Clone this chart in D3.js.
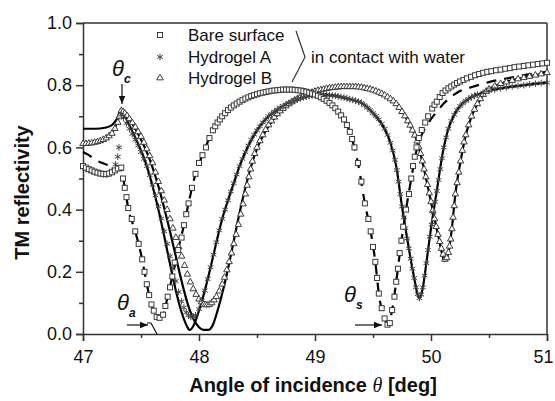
<!DOCTYPE html>
<html>
<head>
<meta charset="utf-8">
<script src="https://cdn.jsdelivr.net/npm/d3@7"></script>
<style>
body { margin: 0; background: #fff; }
svg text { font-family: "Liberation Sans", Arial, sans-serif; fill: #111; }
</style>
</head>
<body>
<div id="chart"></div>
<script>
// measured points [angle in deg, TM reflectivity]
const bareData = [
  [47.00,0.540],[47.025,0.535],[47.05,0.530],[47.075,0.526],[47.10,0.522],[47.125,0.519],[47.15,0.516],[47.175,0.515],
  [47.20,0.514],[47.225,0.516],[47.25,0.520],[47.275,0.526],[47.30,0.532],[47.33,0.535],
  [47.345,0.500],[47.36,0.470],[47.375,0.440],[47.39,0.405],[47.42,0.370],[47.45,0.330],[47.48,0.290],[47.51,0.240],
  [47.53,0.200],[47.55,0.160],[47.57,0.125],[47.59,0.095],[47.61,0.075],[47.635,0.055],[47.66,0.052],[47.69,0.062],
  [47.71,0.090],[47.73,0.120],[47.75,0.150],[47.77,0.185],[47.79,0.230],[47.82,0.270],[47.85,0.310],[47.87,0.350],
  [47.89,0.385],[47.91,0.420],[47.94,0.470],[47.97,0.515],[48.00,0.550],[48.03,0.575],[48.06,0.600],[48.09,0.630],
  [48.12,0.655],[48.14,0.668],[48.16,0.680],[48.18,0.690],[48.20,0.700],[48.225,0.710],[48.25,0.720],[48.275,0.728],
  [48.30,0.735],[48.325,0.741],[48.35,0.747],[48.375,0.752],[48.40,0.757],[48.425,0.761],[48.45,0.765],[48.475,0.768],
  [48.50,0.771],[48.525,0.774],[48.55,0.776],[48.575,0.778],[48.60,0.780],[48.625,0.782],[48.65,0.783],[48.675,0.784],
  [48.70,0.785],[48.725,0.786],[48.75,0.786],[48.775,0.786],[48.80,0.786],[48.825,0.785],[48.85,0.784],[48.875,0.783],
  [48.90,0.781],[48.925,0.779],[48.95,0.776],[48.975,0.773],[49.00,0.770],[49.025,0.766],[49.05,0.761],[49.075,0.756],
  [49.10,0.750],[49.125,0.743],[49.15,0.735],[49.175,0.726],[49.20,0.715],[49.225,0.703],[49.25,0.690],[49.275,0.672],
  [49.30,0.650],[49.32,0.627],[49.34,0.600],[49.37,0.550],[49.40,0.490],[49.43,0.420],[49.46,0.370],[49.48,0.330],
  [49.50,0.280],[49.52,0.232],[49.535,0.180],[49.55,0.130],[49.575,0.083],[49.60,0.050],[49.625,0.030],[49.645,0.035],
  [49.665,0.077],[49.685,0.120],[49.70,0.168],[49.715,0.210],[49.73,0.260],[49.745,0.300],[49.76,0.345],[49.785,0.400],
  [49.81,0.450],[49.83,0.500],[49.845,0.540],[49.86,0.570],[49.875,0.600],[49.895,0.630],[49.92,0.656],[49.95,0.680],
  [49.975,0.700],[50.01,0.725],[50.03,0.737],[50.05,0.747],[50.075,0.762],[50.10,0.775],[50.125,0.783],[50.15,0.790],
  [50.175,0.796],[50.20,0.802],[50.225,0.807],[50.25,0.812],[50.28,0.817],[50.31,0.822],[50.345,0.827],[50.38,0.832],
  [50.415,0.836],[50.45,0.840],[50.485,0.843],[50.52,0.845],[50.56,0.848],[50.60,0.850],[50.64,0.853],[50.68,0.855],
  [50.72,0.858],[50.76,0.860],[50.80,0.862],[50.84,0.864],[50.88,0.866],[50.92,0.868],[50.96,0.870],[51.00,0.872]
];
const gelAData = [
  [47.00,0.535],[47.025,0.531],[47.05,0.528],[47.075,0.524],[47.10,0.520],[47.125,0.517],[47.15,0.515],[47.175,0.513],
  [47.20,0.512],[47.225,0.516],[47.25,0.525],[47.28,0.545],[47.30,0.570],[47.31,0.600],[47.33,0.705],[47.35,0.695],
  [47.375,0.678],[47.40,0.660],[47.425,0.643],[47.45,0.625],[47.475,0.606],[47.50,0.585],[47.525,0.563],[47.55,0.540],
  [47.575,0.511],[47.60,0.480],[47.625,0.446],[47.65,0.410],[47.675,0.371],[47.70,0.330],[47.725,0.290],[47.75,0.250],
  [47.775,0.210],[47.80,0.170],[47.825,0.135],[47.85,0.105],[47.87,0.085],[47.89,0.070],[47.91,0.060],[47.93,0.055],
  [47.95,0.056],[47.97,0.060],[48.00,0.080],[48.025,0.108],[48.05,0.140],[48.075,0.177],[48.10,0.215],[48.125,0.255],
  [48.15,0.295],[48.175,0.333],[48.20,0.370],[48.225,0.400],[48.25,0.430],[48.275,0.458],[48.30,0.485],[48.325,0.513],
  [48.35,0.540],[48.375,0.563],[48.40,0.585],[48.425,0.606],[48.45,0.625],[48.475,0.641],[48.50,0.655],[48.525,0.668],
  [48.55,0.680],[48.575,0.690],[48.60,0.700],[48.625,0.708],[48.65,0.715],[48.675,0.722],[48.70,0.728],[48.725,0.733],
  [48.75,0.738],[48.775,0.743],[48.80,0.747],[48.825,0.751],[48.85,0.755],[48.875,0.758],[48.90,0.761],[48.925,0.763],
  [48.95,0.765],[48.975,0.767],[49.00,0.768],[49.025,0.769],[49.05,0.770],[49.075,0.770],[49.10,0.769],[49.125,0.768],
  [49.15,0.767],[49.175,0.766],[49.20,0.764],[49.225,0.762],[49.25,0.760],[49.275,0.758],[49.30,0.755],[49.325,0.753],
  [49.35,0.750],[49.375,0.747],[49.40,0.743],[49.425,0.736],[49.45,0.728],[49.475,0.720],[49.50,0.710],[49.525,0.701],
  [49.55,0.690],[49.575,0.676],[49.60,0.660],[49.625,0.640],[49.65,0.615],[49.67,0.590],[49.69,0.560],[49.705,0.527],
  [49.72,0.490],[49.735,0.450],[49.75,0.410],[49.765,0.375],[49.78,0.340],[49.795,0.307],[49.81,0.275],[49.825,0.242],
  [49.84,0.210],[49.855,0.180],[49.87,0.150],[49.885,0.128],[49.90,0.115],[49.915,0.127],[49.93,0.150],[49.945,0.188],
  [49.96,0.228],[49.975,0.270],[49.99,0.313],[50.005,0.352],[50.02,0.390],[50.035,0.425],[50.05,0.460],[50.065,0.495],
  [50.08,0.530],[50.095,0.565],[50.11,0.600],[50.13,0.632],[50.15,0.660],[50.175,0.685],[50.20,0.705],[50.225,0.720],
  [50.25,0.733],[50.275,0.742],[50.30,0.750],[50.325,0.756],[50.35,0.762],[50.375,0.766],[50.40,0.770],[50.45,0.776],
  [50.50,0.782],[50.55,0.786],[50.60,0.790],[50.65,0.793],[50.70,0.796],[50.75,0.798],[50.80,0.800],[50.85,0.803],
  [50.90,0.805],[50.95,0.807],[51.00,0.808]
];
const gelBData = [
  [47.00,0.612],[47.025,0.612],[47.05,0.613],[47.075,0.614],[47.10,0.616],[47.125,0.618],[47.15,0.621],[47.175,0.625],
  [47.20,0.630],[47.225,0.637],[47.25,0.645],[47.275,0.660],[47.30,0.680],[47.315,0.700],[47.33,0.718],[47.345,0.715],
  [47.36,0.710],[47.38,0.702],[47.40,0.692],[47.425,0.679],[47.45,0.665],[47.475,0.650],[47.50,0.635],[47.525,0.616],
  [47.55,0.595],[47.575,0.573],[47.60,0.550],[47.625,0.520],[47.65,0.490],[47.675,0.460],[47.70,0.430],[47.725,0.400],
  [47.75,0.370],[47.775,0.340],[47.80,0.310],[47.825,0.280],[47.85,0.250],[47.875,0.220],[47.90,0.192],[47.925,0.167],
  [47.95,0.145],[47.975,0.127],[48.00,0.112],[48.02,0.103],[48.04,0.096],[48.055,0.094],[48.07,0.093],[48.09,0.095],
  [48.11,0.100],[48.13,0.109],[48.15,0.120],[48.175,0.138],[48.20,0.160],[48.22,0.182],[48.24,0.206],[48.26,0.232],
  [48.28,0.260],[48.30,0.290],[48.32,0.320],[48.34,0.352],[48.36,0.385],[48.38,0.418],[48.40,0.450],[48.415,0.478],
  [48.43,0.505],[48.445,0.530],[48.46,0.555],[48.48,0.580],[48.50,0.600],[48.525,0.621],[48.55,0.640],[48.575,0.657],
  [48.60,0.672],[48.625,0.685],[48.65,0.697],[48.675,0.708],[48.70,0.717],[48.725,0.725],[48.75,0.733],[48.775,0.740],
  [48.80,0.746],[48.825,0.752],[48.85,0.757],[48.875,0.762],[48.90,0.766],[48.925,0.770],[48.95,0.774],[48.975,0.777],
  [49.00,0.780],[49.025,0.783],[49.05,0.785],[49.075,0.787],[49.10,0.789],[49.125,0.791],[49.15,0.792],[49.175,0.793],
  [49.20,0.794],[49.225,0.795],[49.25,0.795],[49.275,0.795],[49.30,0.795],[49.325,0.795],[49.35,0.795],[49.375,0.794],
  [49.40,0.793],[49.425,0.791],[49.45,0.789],[49.475,0.787],[49.50,0.784],[49.525,0.781],[49.55,0.777],[49.575,0.773],
  [49.60,0.768],[49.625,0.762],[49.65,0.756],[49.675,0.749],[49.70,0.740],[49.725,0.728],[49.75,0.715],[49.775,0.701],
  [49.80,0.685],[49.82,0.671],[49.84,0.655],[49.86,0.639],[49.88,0.620],[49.895,0.601],[49.91,0.580],[49.925,0.556],
  [49.94,0.530],[49.955,0.505],[49.97,0.480],[49.985,0.453],[50.00,0.425],[50.015,0.397],[50.03,0.370],[50.045,0.345],
  [50.06,0.320],[50.075,0.297],[50.09,0.275],[50.105,0.256],[50.12,0.240],[50.135,0.245],[50.15,0.262],[50.16,0.282],
  [50.17,0.305],[50.18,0.338],[50.19,0.375],[50.20,0.412],[50.21,0.450],[50.225,0.486],[50.24,0.520],[50.255,0.556],
  [50.27,0.590],[50.285,0.617],[50.30,0.640],[50.325,0.672],[50.35,0.700],[50.375,0.722],[50.40,0.740],[50.425,0.756],
  [50.45,0.770],[50.475,0.780],[50.50,0.787],[50.55,0.797],[50.60,0.805],[50.65,0.810],[50.70,0.815],[50.75,0.820],
  [50.80,0.824],[50.85,0.828],[50.90,0.832],[50.95,0.836],[51.00,0.840]
];

// fitted curves
const bareFit = [
  [47.00,0.585],[47.05,0.575],[47.10,0.562],[47.15,0.552],[47.20,0.545],[47.25,0.540],[47.30,0.540],[47.33,0.535],
  [47.36,0.470],[47.39,0.405],[47.45,0.330],[47.51,0.240],[47.55,0.160],[47.59,0.095],[47.635,0.055],[47.66,0.050],
  [47.69,0.062],[47.73,0.120],[47.77,0.185],[47.82,0.270],[47.87,0.350],[47.91,0.420],[47.97,0.515],[48.03,0.575],
  [48.09,0.630],[48.16,0.680],[48.25,0.720],[48.35,0.747],[48.45,0.765],[48.60,0.780],[48.75,0.786],[48.90,0.781],
  [49.05,0.761],[49.20,0.715],[49.30,0.650],[49.37,0.550],[49.43,0.420],[49.48,0.330],[49.52,0.232],[49.55,0.130],
  [49.60,0.050],[49.63,0.030],[49.665,0.077],[49.70,0.168],[49.745,0.300],[49.785,0.400],[49.83,0.500],[49.875,0.590],
  [49.92,0.640],[49.98,0.680],[50.05,0.715],[50.12,0.745],[50.22,0.775],[50.36,0.795],[50.50,0.810],[50.70,0.825],
  [50.90,0.838],[51.00,0.843]
];
const gelAFit = [
  [47.00,0.660],[47.10,0.660],[47.20,0.664],[47.25,0.672],[47.29,0.690],[47.33,0.720],[47.40,0.670],[47.45,0.632],
  [47.50,0.590],[47.55,0.540],[47.60,0.475],[47.65,0.400],[47.70,0.315],[47.75,0.225],[47.80,0.140],[47.85,0.070],
  [47.89,0.030],[47.92,0.013],[47.95,0.025],[48.00,0.075],[48.05,0.140],[48.10,0.215],[48.15,0.295],[48.20,0.370],
  [48.25,0.430],[48.30,0.485],[48.35,0.540],[48.40,0.585],[48.50,0.655],[48.60,0.700],[48.70,0.728],[48.80,0.747],
  [48.90,0.761],[49.00,0.768],[49.10,0.769],[49.20,0.764],[49.30,0.755],[49.40,0.743],[49.50,0.710],[49.60,0.660],
  [49.65,0.615],[49.70,0.540],[49.75,0.410],[49.80,0.295],[49.85,0.190],[49.90,0.115],[49.93,0.150],[49.96,0.228],
  [50.00,0.340],[50.05,0.460],[50.10,0.580],[50.15,0.660],[50.20,0.705],[50.30,0.750],[50.40,0.770],[50.50,0.782],
  [50.60,0.790],[50.80,0.800],[51.00,0.808]
];
const gelBFit = [
  [47.00,0.615],[47.10,0.618],[47.20,0.632],[47.25,0.648],[47.30,0.685],[47.33,0.722],[47.40,0.690],[47.45,0.660],
  [47.50,0.625],[47.55,0.585],[47.60,0.535],[47.65,0.475],[47.70,0.405],[47.75,0.330],[47.80,0.250],[47.85,0.170],
  [47.90,0.100],[47.95,0.050],[48.00,0.022],[48.04,0.013],[48.08,0.013],[48.12,0.030],[48.16,0.075],[48.20,0.130],
  [48.25,0.210],[48.30,0.300],[48.35,0.390],[48.40,0.470],[48.45,0.540],[48.50,0.595],[48.60,0.668],[48.70,0.715],
  [48.80,0.745],[48.90,0.766],[49.00,0.780],[49.10,0.789],[49.20,0.794],[49.30,0.795],[49.40,0.793],[49.50,0.784],
  [49.60,0.768],[49.70,0.740],[49.80,0.685],[49.88,0.620],[49.94,0.530],[50.00,0.425],[50.06,0.320],[50.12,0.235],
  [50.15,0.262],[50.18,0.340],[50.21,0.450],[50.25,0.545],[50.30,0.640],[50.35,0.700],[50.40,0.740],[50.50,0.787],
  [50.60,0.805],[50.80,0.824],[51.00,0.840]
];

const legendNames = ["Bare surface", "Hydrogel A", "Hydrogel B"];
const xTicks = [47, 48, 49, 50, 51];
const yTicks = [0, 0.2, 0.4, 0.6, 0.8, 1.0];

const width = 555
const height = 401
const margin = {"top": 23, "right": 8, "bottom": 67, "left": 83};

document.addEventListener('DOMContentLoaded', function () {
    var svg = d3.select("#chart").append("svg")
        .attr("width", width)
        .attr("height", height);

    var xScale = d3.scaleLinear().domain([47, 51]).range([margin.left, width - margin.right]);
    var yScale = d3.scaleLinear().domain([0, 1]).range([height - margin.bottom, margin.top]);

    // minor ticks first, then the major axes on top
    svg.append("g")
        .attr("transform", "translate(0," + yScale(0) + ")")
        .call(d3.axisBottom(xScale).tickValues([47.5, 48.5, 49.5, 50.5]).tickSize(4).tickFormat(""))
        .call(g => g.select(".domain").remove());
    svg.append("g")
        .attr("transform", "translate(" + xScale(47) + ",0)")
        .call(d3.axisLeft(yScale).tickValues([0.1, 0.3, 0.5, 0.7, 0.9]).tickSize(4).tickFormat(""))
        .call(g => g.select(".domain").remove());

    var xAxis = svg.append("g")
        .attr("transform", "translate(0," + yScale(0) + ")")
        .call(d3.axisBottom(xScale).tickValues(xTicks).tickSize(7).tickPadding(9).tickFormat(d3.format("d")));
    svg.append("g")
        .attr("transform", "translate(" + xScale(47) + ",0)")
        .call(d3.axisLeft(yScale).tickValues(yTicks).tickSize(7).tickPadding(4).tickFormat(d3.format(".1f")));

    svg.selectAll(".tick line").attr("stroke", "#333").attr("stroke-width", 1.5);
    svg.selectAll(".domain").attr("stroke", "#333").attr("stroke-width", 1.5);
    svg.selectAll(".tick text").attr("font-size", "18px").attr("fill", "#111")
        .attr("font-family", "Liberation Sans, Arial, sans-serif");
    // last label sits on the window edge, pull it in a little
    xAxis.selectAll(".tick text").filter(d => d === 51).attr("dx", -4);

    // top and right frame
    svg.append("line")
        .attr("x1", xScale(47)).attr("x2", xScale(51))
        .attr("y1", yScale(1)).attr("y2", yScale(1))
        .attr("stroke", "#333").attr("stroke-width", 1.5);
    svg.append("line")
        .attr("x1", xScale(51)).attr("x2", xScale(51))
        .attr("y1", yScale(1)).attr("y2", yScale(0))
        .attr("stroke", "#333").attr("stroke-width", 1.5);

    var line = d3.line()
        .x(d => xScale(d[0]))
        .y(d => yScale(d[1]))
        .curve(d3.curveMonotoneX);

    svg.append("path").datum(bareFit)
        .attr("d", line).attr("fill", "none")
        .attr("stroke", "#000").attr("stroke-width", 2.2)
        .attr("stroke-dasharray", "10,8");
    svg.append("path").datum(gelAFit)
        .attr("d", line).attr("fill", "none")
        .attr("stroke", "#000").attr("stroke-width", 2.2);
    svg.append("path").datum(gelBFit)
        .attr("d", line).attr("fill", "none")
        .attr("stroke", "#000").attr("stroke-width", 2.2);

    var triangle = d3.symbol().type(d3.symbolTriangle2).size(30);
    var star = d3.symbol().type(d3.symbolAsterisk).size(30);

    svg.selectAll("path.tri")
        .data(gelBData)
        .join("path")
            .attr("class", "tri")
            .attr("d", triangle)
            .attr("transform", d => "translate(" + xScale(d[0]) + "," + yScale(d[1]) + ")")
            .attr("fill", "#fff")
            .attr("stroke", "#3a3a3a")
            .attr("stroke-width", 1);

    svg.selectAll("path.star")
        .data(gelAData)
        .join("path")
            .attr("class", "star")
            .attr("d", star)
            .attr("transform", d => "translate(" + xScale(d[0]) + "," + yScale(d[1]) + ")")
            .attr("fill", "none")
            .attr("stroke", "#444")
            .attr("stroke-width", 1);

    svg.selectAll("rect.sq")
        .data(bareData)
        .join("rect")
            .attr("class", "sq")
            .attr("x", d => xScale(d[0]) - 2.5)
            .attr("y", d => yScale(d[1]) - 2.5)
            .attr("width", 5)
            .attr("height", 5)
            .attr("fill", "#fff")
            .attr("stroke", "#3a3a3a")
            .attr("stroke-width", 1);

    // legend
    var legend = svg.append("g").attr("class", "legend");
    legend.append("rect")
        .attr("x", 157.5).attr("y", 32.5).attr("width", 5).attr("height", 5)
        .attr("fill", "#fff").attr("stroke", "#3a3a3a");
    legend.append("path")
        .attr("d", star).attr("transform", "translate(160,57)")
        .attr("fill", "none").attr("stroke", "#444");
    legend.append("path")
        .attr("d", triangle).attr("transform", "translate(160,78)")
        .attr("fill", "#fff").attr("stroke", "#3a3a3a");
    legend.selectAll("text.name")
        .data(legendNames)
        .join("text")
            .attr("class", "name")
            .attr("x", 188)
            .attr("y", (d, i) => 41 + i * 21.5)
            .attr("font-size", "17px")
            .text(d => d);
    legend.append("path")
        .attr("d", "M296,31 L305,57 L292,82")
        .attr("fill", "none").attr("stroke", "#333").attr("stroke-width", 1.2);
    legend.append("text")
        .attr("x", 311).attr("y", 63)
        .attr("font-size", "17px")
        .text("in contact with water");

    // axis titles
    svg.append("text")
        .attr("transform", "translate(29," + ((yScale(0) + yScale(1)) / 2 + 14) + ") rotate(-90)")
        .attr("text-anchor", "middle")
        .attr("font-size", "20px")
        .attr("font-weight", "bold")
        .text("TM reflectivity");

    var xTitle = svg.append("text")
        .attr("x", 313).attr("y", 392)
        .attr("text-anchor", "middle")
        .attr("font-size", "20px")
        .attr("font-weight", "bold");
    xTitle.append("tspan").text("Angle of incidence ");
    xTitle.append("tspan")
        .attr("font-family", "Liberation Serif, serif")
        .attr("font-style", "italic").attr("font-weight", "normal")
        .text("θ");
    xTitle.append("tspan").text(" [deg]");

    // angle annotations
    function thetaLabel(x, y, sub) {
        var t = svg.append("text")
            .attr("x", x).attr("y", y)
            .attr("font-family", "Liberation Serif, serif")
            .attr("font-style", "italic")
            .attr("font-size", "22px");
        t.append("tspan").text("θ");
        t.append("tspan")
            .attr("dy", 7)
            .attr("font-size", "12px")
            .attr("font-weight", "bold")
            .text(sub);
    }
    thetaLabel(112, 76, "c");
    thetaLabel(117, 310, "a");
    thetaLabel(344, 302, "s");

    svg.append("defs").append("marker")
        .attr("id", "head")
        .attr("viewBox", "0 0 10 10")
        .attr("refX", 10).attr("refY", 5)
        .attr("markerWidth", 7).attr("markerHeight", 7)
        .attr("orient", "auto")
        .append("path").attr("d", "M0,1 L10,5 L0,9 Z").attr("fill", "#111");

    svg.append("line")
        .attr("x1", 122).attr("y1", 84).attr("x2", 122).attr("y2", 104)
        .attr("stroke", "#111").attr("stroke-width", 1.2).attr("marker-end", "url(#head)");
    svg.append("line")
        .attr("x1", 127).attr("y1", 325).attr("x2", 148).attr("y2", 325)
        .attr("stroke", "#111").attr("stroke-width", 1.2).attr("marker-end", "url(#head)");
    svg.append("path")
        .attr("d", "M147,323 L151,323 L157,334")
        .attr("fill", "none").attr("stroke", "#111").attr("stroke-width", 1.2);
    svg.append("line")
        .attr("x1", 355).attr("y1", 325).attr("x2", 382).attr("y2", 325)
        .attr("stroke", "#111").attr("stroke-width", 1.2).attr("marker-end", "url(#head)");
});
</script>
</body>
</html>
